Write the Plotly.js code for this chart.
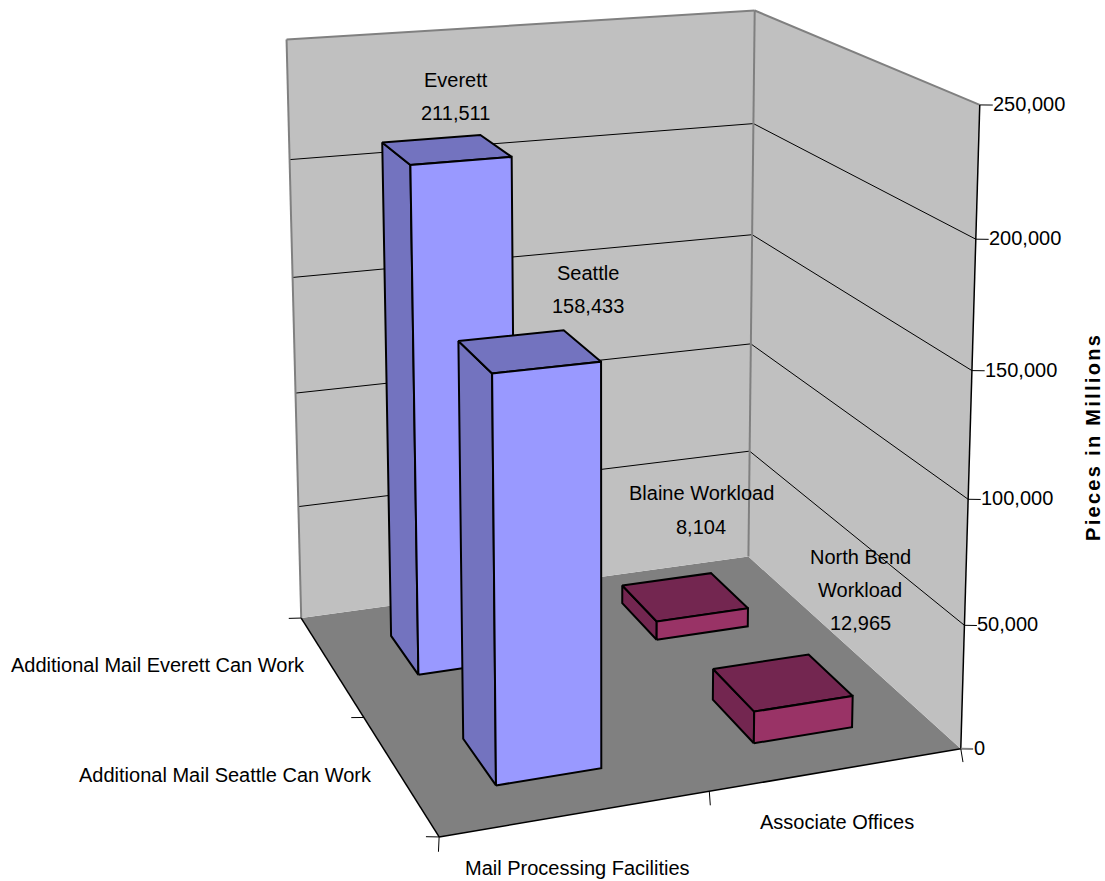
<!DOCTYPE html><html><head><meta charset="utf-8"><script src="https://cdn.plot.ly/plotly-3.0.1.min.js"></script>
<style>html,body{margin:0;background:#fff;overflow:hidden}
text[data-unformatted*="Pieces"]{letter-spacing:2.3px}</style></head><body><div id="g" style="width:1105px;height:881px"></div>
<script>
// ---- chart data ----
var xCategories = ['Mail Processing Facilities', 'Associate Offices'];
var yCategories = ['Additional Mail Seattle Can Work', 'Additional Mail Everett Can Work'];
var barNames = [['Everett'], ['Seattle'], ['Blaine Workload'], ['North Bend', 'Workload']];
var barValues = [211511, 158433, 8104, 12965];
var barXCat = [0, 0, 1, 1];
var barYCat = [1, 0, 1, 0];
var zTicks = [0, 50000, 100000, 150000, 200000, 250000];
var zTitle = 'Pieces in Millions';

// ---- view: the chart's 3-D box seen through a camera, projected onto the cartesian axes ----
var ZMAX = 250000, CELLS = 2, HALF = 0.2;
var E = [-1.6642, -4.6328, 1.5788], D = [0.34432, 0.91531, -0.20895];
var R = [0.93623, -0.35141, 0.00342], U = [0.07029, 0.19680, 0.97792];
var F = 2693.8, PX = 652.1, PY = 112.7, A = [1, 1.0211, 1.2152];
function dot(a, b) { return a[0]*b[0] + a[1]*b[1] + a[2]*b[2]; }
function project(x, y, z) {
  var v = [(x/2 - 0.5)*A[0] - E[0], (y/2 - 0.5)*A[1] - E[1], (z/ZMAX - 0.5)*A[2] - E[2]];
  var d = dot(v, D);
  return [PX + F*dot(v, R)/d, PY - F*dot(v, U)/d];
}
var traces = [];
function poly(quads, fill, edge, width) {
  var xs = [], ys = [];
  quads.forEach(function (q) {
    q.concat([q[0]]).forEach(function (p) { var s = project(p[0], p[1], p[2]); xs.push(s[0]); ys.push(s[1]); });
    xs.push(null); ys.push(null);
  });
  traces.push({type: 'scatter', mode: 'lines', x: xs, y: ys, fill: 'toself', fillcolor: fill,
    line: {color: edge || fill, width: width === undefined ? 0 : width, simplify: false}, hoverinfo: 'skip'});
}
function segs(list, color, width) {
  var xs = [], ys = [];
  list.forEach(function (s) {
    s.forEach(function (p) { var q = project(p[0], p[1], p[2]); xs.push(q[0]); ys.push(q[1]); });
    xs.push(null); ys.push(null);
  });
  traces.push({type: 'scatter', mode: 'lines', x: xs, y: ys, line: {color: color, width: width, simplify: false}, hoverinfo: 'skip'});
}
var C = CELLS, T = ZMAX;
poly([[[0,0,0],[C,0,0],[C,C,0],[0,C,0]]], '#808080');
poly([[[0,C,0],[C,C,0],[C,C,T],[0,C,T]], [[C,0,0],[C,C,0],[C,C,T],[C,0,T]]], '#c0c0c0');
var inner = zTicks.filter(function (v) { return v > 0 && v < T; });
segs(inner.map(function (v) { return [[0,C,v],[C,C,v]]; }).concat(inner.map(function (v) { return [[C,C,v],[C,0,v]]; })), '#000', 1);
segs([[[0,C,0],[0,C,T]], [[0,C,T],[C,C,T]], [[C,C,T],[C,0,T]], [[C,C,0],[C,C,T]]], '#808080', 2);
segs([[[0,0,0],[C,0,0]], [[0,0,0],[0,C,0]], [[C,0,0],[C,0,T]]], '#000', 1.5);
var tx = 0.042, ty = 0.017;
segs(zTicks.slice(1).map(function (v) { return [[C,0,v],[C+tx,-ty,v]]; }), '#000', 1);
segs([[[C,0,0],[C+tx,-ty,0]]], '#808080', 2);
var leftTx = [0.042, 0.045, 0.049], leftTy = [0.017, 0.015, 0.014];
segs([0,1,2].map(function (i) { return [[0,i,0],[-leftTx[i],i+leftTy[i],0]]; }), '#000', 1);
var downTx = [0.032, 0.037, 0.043];
segs([0,1,2].map(function (i) { return [[i,0,0],[i-downTx[i],-0.1,0]]; }), '#000', 1);

var frontColors = ['#9999ff', '#993366'], shadeColors = ['#7373bf', '#732650'];
// painter's order: back row first
[0, 1, 2, 3].forEach(function (n) {
  var cx = barXCat[n] + 0.5, cy = barYCat[n] + 0.5, h = barValues[n];
  var x0 = cx - HALF, x1 = cx + HALF, y0 = cy - HALF, y1 = cy + HALF;
  poly([[[x0,y0,0],[x0,y1,0],[x0,y1,h],[x0,y0,h]]], shadeColors[barXCat[n]], '#000', 2);
  poly([[[x0,y0,h],[x1,y0,h],[x1,y1,h],[x0,y1,h]]], shadeColors[barXCat[n]], '#000', 2);
  poly([[[x0,y0,0],[x1,y0,0],[x1,y0,h],[x0,y0,h]]], frontColors[barXCat[n]], '#000', 2);
});

var FONT = {family: 'Liberation Sans, Arial, sans-serif', size: 20, color: '#000'};
var ann = [];
function note(w, text, dx, dy, o) {
  var p = project(w[0], w[1], w[2]);
  ann.push(Object.assign({xref: 'x', yref: 'y', x: p[0] + dx, y: p[1] + dy, text: text, showarrow: false, font: FONT,
    xanchor: 'center', yanchor: 'middle'}, o || {}));
}
function fmt(v) { return v.toLocaleString('en-US'); }
zTicks.forEach(function (v) { note([C,0,v], fmt(v), 11, -1, {xanchor: 'left'}); });
note([0.5,0,0], xCategories[0], 1, 54);
note([1.5,0,0], xCategories[1], 0, 52);
note([0,0.5,0], yCategories[0], -26, 1, {xanchor: 'right'});
note([0,1.5,0], yCategories[1], -24, -1, {xanchor: 'right'});
var labelDx = [9.5, 59, 17, 78], labelDy = [-70, -78, -104, -125], valueDx = [0, 0, 0, 0];
barValues.forEach(function (v, n) {
  var w = [barXCat[n] + 0.5, barYCat[n] + 0.5, v], lines = barNames[n];
  lines.forEach(function (t, i) { note(w, t, labelDx[n], labelDy[n] + 33*i); });
  note(w, fmt(v), labelDx[n] + valueDx[n], labelDy[n] + 33*lines.length + (n === 2 ? 1 : 0));
});
ann.push({xref: 'paper', yref: 'paper', x: 1093/1105, y: 1 - 437/881, text: '<b>' + zTitle + '</b>', textangle: -90,
  showarrow: false, font: FONT, xanchor: 'center', yanchor: 'middle'});

var hidden = {visible: false, fixedrange: true, autorange: false};
Plotly.newPlot('g', traces, {
  width: 1105, height: 881, margin: {l: 0, r: 0, t: 0, b: 0, pad: 0}, paper_bgcolor: '#fff', plot_bgcolor: '#fff',
  showlegend: false, hovermode: false,
  xaxis: Object.assign({range: [0, 1105]}, hidden),
  yaxis: Object.assign({range: [881, 0]}, hidden),
  annotations: ann
}, {displayModeBar: false, staticPlot: true});
</script></body></html>
